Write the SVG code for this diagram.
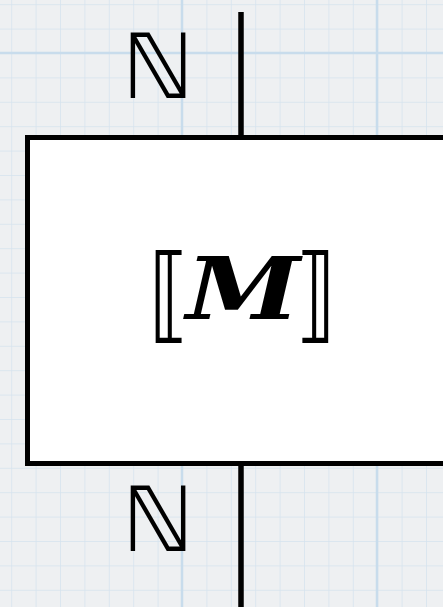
<svg xmlns="http://www.w3.org/2000/svg" width="443" height="607" viewBox="0 0 443 607">
<defs>
<pattern id="minor" width="24.4" height="24.4" patternUnits="userSpaceOnUse" x="11.2" y="4.2">
<path d="M0 0H24.4M0 0V24.4" fill="none" stroke="#d5e3ee" stroke-width="1.5"/>
</pattern>
<style>
.nat{font-family:"DejaVu Sans",sans-serif;fill:#000;font-size:90px}
.br{font-family:"DejaVu Sans",sans-serif;fill:#000;font-size:104px}
.m{font-family:"DejaVu Serif",serif;fill:#000;font-size:86px;font-weight:bold;font-style:italic}
.wire{stroke:#000;stroke-width:5.5;fill:none}
</style>
</defs>
<g id="background">
<rect width="443" height="607" fill="#eef0f2"/>
<rect width="443" height="607" fill="url(#minor)"/>
<path d="M182 0V607M377 0V607M0 53H443" stroke="#c8dcec" stroke-width="2.5"/>
</g>
<g id="connectors">
<line class="wire" x1="241" y1="12" x2="241" y2="137"/>
<line class="wire" x1="241" y1="463" x2="241" y2="607"/>
</g>
<g id="node-M">
<rect x="27.5" y="137.5" width="430" height="326" fill="#fff" stroke="#000" stroke-width="5"/>
<text class="br" x="-8" y="329" transform="translate(155 0) scale(0.8 1)">⟦</text>
<text class="m" x="186" y="319" transform="translate(186 319) scale(1.2 1) translate(-186 -319)">M</text>
<text class="br" x="8" y="329" text-anchor="end" transform="translate(330 0) scale(0.8 1)">⟧</text>
</g>
<g id="label-top">
<text class="nat" x="122" y="98">ℕ</text>
</g>
<g id="label-bottom">
<text class="nat" x="122" y="551">ℕ</text>
</g>
</svg>
